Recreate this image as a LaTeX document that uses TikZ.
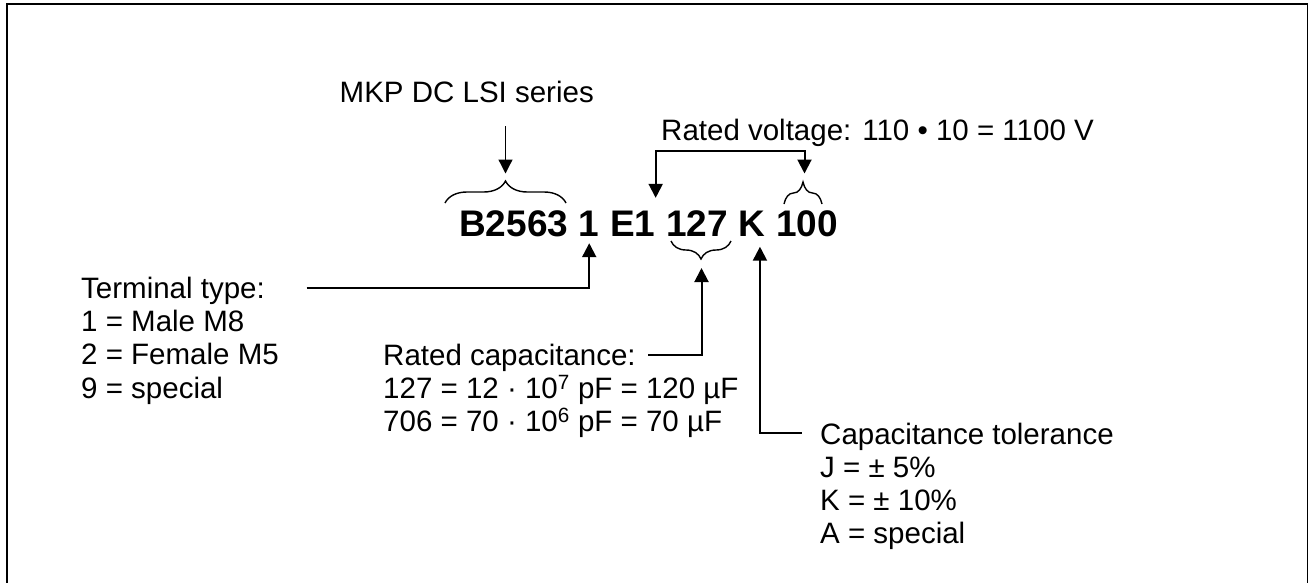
\documentclass[tikz,border=0pt]{standalone}
\usepackage{fontspec}
\setmainfont{Liberation Sans}
\usetikzlibrary{positioning,arrows.meta,decorations.pathreplacing}

\tikzset{
  code/.style={font=\bfseries\fontsize{37}{40}\selectfont, inner sep=0pt},
  lbl/.style={font=\fontsize{29.5}{33.3}\selectfont, inner sep=0pt, align=left, anchor=base west},
  conn/.style={line width=2pt, -{Triangle[length=14pt,width=14pt]}},
  twoway/.style={line width=2pt, {Triangle[length=14pt,width=14pt]}-{Triangle[length=14pt,width=14pt]}},
  pointer/.style={line width=1.3pt, -{Triangle[length=14pt,width=14pt]}},
  brc/.style={decorate, decoration={brace, amplitude=#1}, line width=1.4pt},
}

\begin{document}
\begin{tikzpicture}[x=1pt, y=-1pt]
  \useasboundingbox (0,0) rectangle (1309,582);
  \draw[line width=1.8pt] (7.3,600) -- (7.3,4.2) -- (1307.5,4.2) -- (1307.5,600);

  % ordering code
  \node[code, anchor=base west] (ser) at (459,236.5) {B2563};
  \node[code, base right=10.3pt of ser] (term) {1};
  \node[code, base right=10.3pt of term] (volt) {E1};
  \node[code, base right=10.3pt of volt] (cap) {127};
  \node[code, base right=10.3pt of cap] (tol) {K};
  \node[code, base right=10.3pt of tol] (mult) {100};

  % labels (base = last line)
  \node[lbl] (mkp) at (339.5,102.7) {MKP DC LSI series};
  \node[lbl] (vlabel) at (661,140) {Rated voltage: 110 • 10 = 1100 V};
  \node[lbl] (tlabel) at (81,398.2) {Terminal type:\\1 = Male M8\\2 = Female M5\\9 = special};
  \node[lbl] (clabel) at (383,431.6) {Rated capacitance:\\127 = 12 · 10\textsuperscript{7} pF = 120 µF\\706 = 70 · 10\textsuperscript{6} pF = 70 µF};
  \node[lbl] (klabel) at (820,543.9) {Capacitance tolerance\\J = ± 5\%\\K = ± 10\%\\A = special};

  % braces
  \draw[brc=22pt] (445,203) -- (566,203);
  \draw[brc=22pt] (784,204) -- (822,204);
  \draw[brc=18pt] (731,241) -- (671,241);

  % free ends
  \coordinate (sertip) at (505.5,173.5);
  \coordinate (multtip) at (804.5,173.5);
  \coordinate (captip) at (701.5,268);
  \coordinate (mkpfoot) at (505.5,126);
  \coordinate (vbar) at (0,150.5);
  \coordinate (tfoot) at (306.7,288.3);
  \coordinate (cfoot) at (648,355);
  \coordinate (kfoot) at (801.7,432.7);

  \draw[pointer] (mkpfoot) -- (sertip);
  \draw[twoway] ([yshift=13pt]volt.north east) |- (vbar -| multtip) -- (multtip);
  \draw[conn] (tfoot) -| ([yshift=-6.5pt]term.south);
  \draw[conn] (cfoot) -| (captip);
  \draw[conn] (kfoot) -| ([xshift=8pt,yshift=-10pt]tol.south);
\end{tikzpicture}
\end{document}
